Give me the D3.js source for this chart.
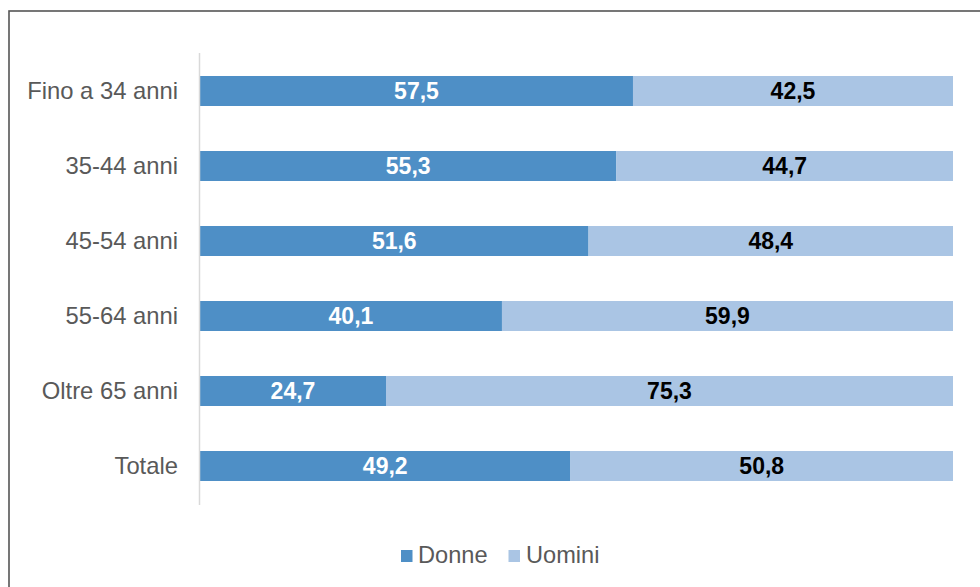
<!DOCTYPE html>
<html><head><meta charset="utf-8">
<script src="https://cdn.jsdelivr.net/npm/d3@7"></script>
<style>body{margin:0;background:#fff}svg{display:block}</style>
</head><body>
<script>
const categories = ["Fino a 34 anni","35-44 anni","45-54 anni","55-64 anni","Oltre 65 anni","Totale"];
const donne = [57.5,55.3,51.6,40.1,24.7,49.2];
const uomini = [42.5,44.7,48.4,59.9,75.3,50.8];
const seriesNames = ["Donne","Uomini"];
const colors = ["#4e8fc6","#aac5e4"];
const labelColors = ["#ffffff","#000000"];

const W = 980, H = 587;
const svg = d3.select("body").append("svg").attr("width", W).attr("height", H);
svg.append("rect").attr("width", W).attr("height", H).attr("fill", "#fff");
// frame
svg.append("rect").attr("x", 9).attr("y", 11).attr("width", 1000).attr("height", 700)
  .attr("fill", "none").attr("stroke", "#555").attr("stroke-width", 1.6);

const font = "'Liberation Sans', Arial, sans-serif";
const x = d3.scaleLinear().domain([0,100]).range([200,953]);
const y = d3.scaleBand().domain(categories).range([53.5,503.5]).paddingInner(0.6).paddingOuter(0.3);

const data = categories.map((c,i)=>({cat:c, vals:[donne[i], uomini[i]]}));
const stackData = data.map(d=>({cat:d.cat, Donne:d.vals[0], Uomini:d.vals[1]}));
const stack = d3.stack().keys(seriesNames)(stackData);

stack.forEach((s,si)=>{
  const g = svg.append("g");
  g.selectAll("rect").data(s).join("rect")
    .attr("x", d=>x(d[0])).attr("width", d=>x(d[1])-x(d[0]))
    .attr("y", d=>y(d.data.cat)).attr("height", y.bandwidth())
    .attr("fill", colors[si]);
  g.selectAll("text").data(s).join("text")
    .attr("x", d=>(x(d[0])+x(d[1]))/2)
    .attr("y", d=>y(d.data.cat)+y.bandwidth()/2)
    .attr("dy","0.36em").attr("text-anchor","middle")
    .attr("font-family", font).attr("font-weight","bold").attr("font-size", 23)
    .attr("fill", labelColors[si])
    .text(d=>d3.format(".1f")(d[1]-d[0]).replace(".",","));
});

// y axis
const yAxis = svg.append("g").attr("transform","translate(200,0)")
  .call(d3.axisLeft(y).tickSize(0).tickPadding(22));
yAxis.select(".domain").remove();
yAxis.append("line").attr("x1",-0.5).attr("x2",-0.5).attr("y1",53).attr("y2",505)
  .attr("stroke","#d9d9d9").attr("stroke-width",1.5);
yAxis.selectAll("text").attr("font-family", font).attr("font-size", 23.8).attr("fill","#595959");

// legend
const legend = [{name:"Donne", sx:401, tx:418},{name:"Uomini", sx:508.5, tx:526}];
legend.forEach((l,i)=>{
  svg.append("rect").attr("x", l.sx).attr("y", 550).attr("width", 11.5).attr("height", 12).attr("fill", colors[i]);
  svg.append("text").attr("x", l.tx).attr("y", 563).attr("font-family", font).attr("font-size", 23.6)
    .attr("fill","#595959").text(l.name);
});
</script>
</body></html>
